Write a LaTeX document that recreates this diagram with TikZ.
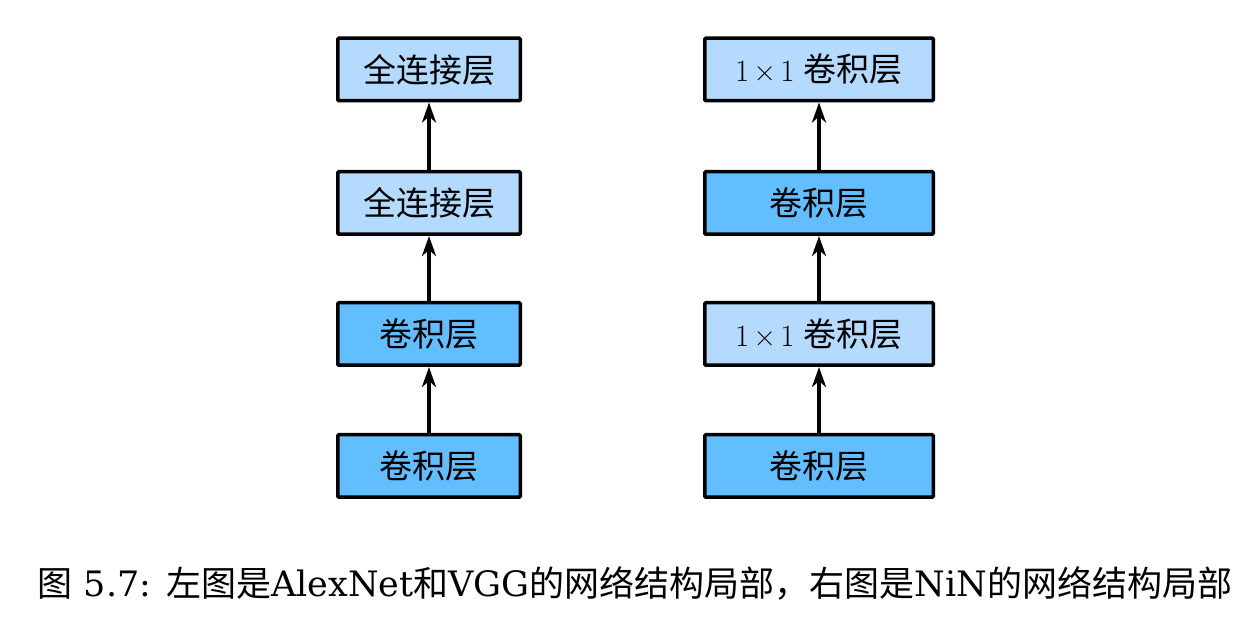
\documentclass[tikz,border=0pt]{standalone}
\usepackage{fontspec}
\setmainfont{DejaVu Serif}
\newfontfamily\cjk{Noto Sans CJK SC}
\newfontfamily\lmr{Latin Modern Roman}
\usetikzlibrary{arrows.meta}
\definecolor{lightblue}{HTML}{B4DBFF}
\definecolor{darkblue}{HTML}{63BEFF}
\newcommand{\onebyone}{{\lmr\fontsize{31}{34}\selectfont 1\hspace{0.14em}×\hspace{0.14em}1\hspace{0.3em}}}
\tikzset{
  layer/.style={draw=black, line width=3.5pt, rounded corners=1pt, minimum height=62.5pt, inner sep=0pt, font=\cjk\fontsize{33}{36}\selectfont},
  narrow/.style={layer, minimum width=182.5pt},
  wide/.style={layer, minimum width=228.5pt},
  fc/.style={fill=lightblue},
  conv/.style={fill=darkblue},
  flow/.style={line width=3.5pt, -{Stealth[length=20pt,width=14pt,inset=6pt]}},
}
\begin{document}
\begin{tikzpicture}[x=1pt,y=1pt]
\useasboundingbox (0,0) rectangle (1260,620);
% left column
\node[narrow,conv] (l1) at (429,154) {卷积层};
\node[narrow,conv] (l2) at (429,286) {卷积层};
\node[narrow,fc] (l3) at (429,417) {全连接层};
\node[narrow,fc] (l4) at (429,550.5) {全连接层};
% right column
\node[wide,conv] (r1) at (819,154) {卷积层};
\node[wide,fc] (r2) at (819,286) {\onebyone 卷积层};
\node[wide,conv] (r3) at (819,417) {卷积层};
\node[wide,fc] (r4) at (819,550.5) {\onebyone 卷积层};
% arrows
\draw[flow] (l1) -- (l2);
\draw[flow] (l2) -- (l3);
\draw[flow] (l3) -- (l4);
\draw[flow] (r1) -- (r2);
\draw[flow] (r2) -- (r3);
\draw[flow] (r3) -- (r4);
% caption
\node[font=\fontsize{35}{38}\selectfont, inner sep=0pt] (cap) at (635,37)
  {{\cjk 图} 5.7: {\cjk 左图是}AlexNet{\cjk 和}VGG{\cjk 的网络结构局部，右图是}NiN{\cjk 的网络结构局部}};
\end{tikzpicture}
\end{document}
